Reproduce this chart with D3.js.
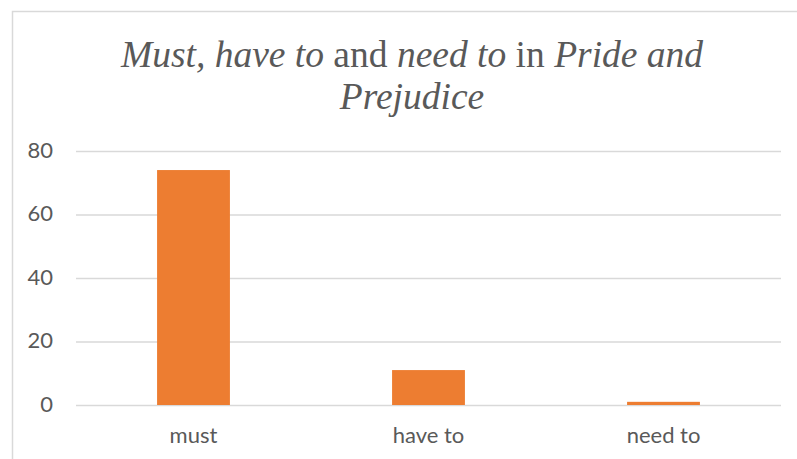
<!DOCTYPE html>
<html>
<head>
<meta charset="utf-8">
<script src="https://cdn.jsdelivr.net/npm/d3@7"></script>
<style>
  body { margin: 0; background: #fff; }
  svg { display: block; }
  .tick text { font-family: Lato, "Open Sans", sans-serif; font-size: 22px; fill: #595959; }
</style>
</head>
<body>
<div id="chart"></div>
<script>
// data
const categories = ['must', 'have to', 'need to'];
const counts = [74, 11, 1];
const yTicks = [0, 20, 40, 60, 80];

const W = 797, H = 459;
const margin = {left: 76, right: 16, top: 151, bottom: 54};

const svg = d3.select('#chart').append('svg').attr('width', W).attr('height', H);

// chart frame (only top & left visible in the crop)
svg.append('rect')
   .attr('x', 12.5).attr('y', 11.5)
   .attr('width', W + 20).attr('height', H + 20)
   .attr('fill', 'none').attr('stroke', '#d9d9d9').attr('stroke-width', 1.5);

const x = d3.scaleBand()
  .domain(categories)
  .range([margin.left, W - margin.right])
  .paddingInner(0.69)
  .paddingOuter(0.345);

const y = d3.scaleLinear().domain([0, 80]).range([H - margin.bottom, margin.top]);

// gridlines + y labels
const yAxis = svg.append('g')
  .attr('transform', 'translate(' + margin.left + ',0)')
  .call(d3.axisLeft(y).tickValues(yTicks).tickSize(-(W - margin.right - margin.left)).tickPadding(23));
yAxis.select('.domain').remove();
yAxis.selectAll('.tick line').attr('stroke', '#d9d9d9').attr('stroke-width', 1.5);
yAxis.selectAll('.tick text').attr('dy', '0.28em');

// bars
svg.append('g').selectAll('rect')
  .data(counts)
  .enter()
  .append('rect')
  .attr('x', (d, i) => x(categories[i]))
  .attr('y', d => y(d))
  .attr('width', x.bandwidth())
  .attr('height', d => y(0) - y(d))
  .attr('fill', '#ed7d31');

// x labels
const xAxis = svg.append('g')
  .attr('transform', 'translate(0,' + (H - margin.bottom) + ')')
  .call(d3.axisBottom(x).tickSize(0).tickPadding(22));
xAxis.select('.domain').remove();

// title, mixed italic
const titleLines = [
  [['Must, have to', true], [' and ', false], ['need to', true], [' in ', false], ['Pride and', true]],
  [['Prejudice', true]]
];
const title = svg.append('text')
  .attr('text-anchor', 'middle')
  .style('font-family', '"Liberation Serif", "Times New Roman", serif')
  .style('font-size', '37.5px')
  .style('fill', '#595959');
titleLines.forEach(function(line, li) {
  const t = title.append('tspan').attr('x', 412).attr('y', 67 + li * 42);
  line.forEach(function(part) {
    t.append('tspan').text(part[0]).style('font-style', part[1] ? 'italic' : 'normal');
  });
});
</script>
</body>
</html>
